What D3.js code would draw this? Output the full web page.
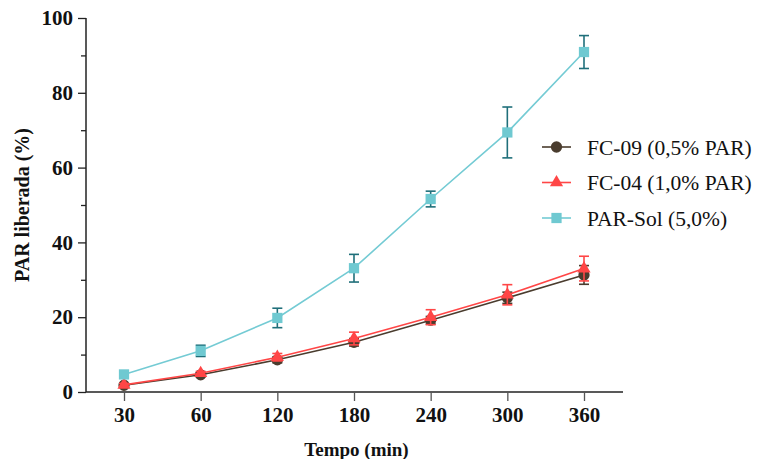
<!DOCTYPE html>
<html>
<head>
<meta charset="utf-8">
<script src="https://cdn.jsdelivr.net/npm/d3@7"></script>
<style>
	body { margin: 0; background: #fff; }
	svg { display: block; }
	svg text { font-family: "Liberation Serif", "Times New Roman", Times, Tinos, "DejaVu Serif", serif; }
</style>
</head>
<body>
<svg id="chart" width="759" height="459"></svg>
<script>
const times = ["30", "60", "120", "180", "240", "300", "360"];

const fc09Mean = [1.8, 4.6, 8.6, 13.3, 19.2, 25.2, 31.3];
const fc09Err  = [0.4, 0.5, 0.8, 1.0, 1.0, 1.5, 2.5];

const fc04Mean = [1.9, 5.0, 9.3, 14.3, 20.0, 26.0, 33.0];
const fc04Err  = [0.4, 0.5, 1.0, 1.7, 2.0, 2.7, 3.3];

const parSolMean = [4.7, 11.0, 19.8, 33.1, 51.6, 69.4, 90.9];
const parSolErr  = [0.5, 1.5, 2.6, 3.7, 2.1, 6.8, 4.4];

const yTicks = [0, 20, 40, 60, 80, 100];
const yMinorTicks = [10, 30, 50, 70, 90];

const series = [
	{ name: "FC-09 (0,5% PAR)", mean: fc09Mean, err: fc09Err, line: "#4a3c2e", marker: "#4a3c2e", bar: "#4a3c2e", shape: d3.symbolCircle, size: 100 },
	{ name: "FC-04 (1,0% PAR)", mean: fc04Mean, err: fc04Err, line: "#ff4646", marker: "#ff4646", bar: "#ff4646", shape: d3.symbolTriangle, size: 75 },
	{ name: "PAR-Sol (5,0%)", mean: parSolMean, err: parSolErr, line: "#74cbd4", marker: "#6fc9d1", bar: "#1f6f7a", shape: d3.symbolSquare, size: 105 }
];

const svg = d3.select("#chart");

const x = d3.scalePoint()
	.domain(times)
	.range([124, 584]);

const y = d3.scaleLinear()
	.domain([0, 100])
	.range([392, 18]);

const axisLeft = 86, axisRight = 623;

// y axis: minor ticks first, then majors with labels
const yAxisG = svg.append("g")
	.attr("transform", "translate(" + axisLeft + ",0)");

yAxisG.append("g")
	.call(d3.axisLeft(y).tickValues(yMinorTicks).tickSize(5).tickFormat(""))
	.call(g => g.select(".domain").remove());

yAxisG.append("g")
	.call(d3.axisLeft(y).tickValues(yTicks).tickSize(8).tickSizeOuter(0).tickPadding(5))
	.call(g => g.select(".domain").attr("d", "M0," + y(0) + "V" + y(100)));

yAxisG.selectAll("g").attr("font-family", null);
yAxisG.selectAll("line").attr("stroke", "#222").attr("stroke-width", 1.3);
yAxisG.selectAll(".domain").attr("stroke", "#222").attr("stroke-width", 1.5);
yAxisG.selectAll("text")
	.attr("font-weight", "bold")
	.attr("font-size", 21)
	.attr("fill", "#111");

// x axis
const xAxisG = svg.append("g")
	.attr("transform", "translate(0," + y(0) + ")")
	.call(d3.axisBottom(x).tickSize(9).tickSizeOuter(0).tickPadding(6))
	.call(g => g.select(".domain").attr("d", "M" + axisLeft + ",0H" + axisRight))
	.attr("font-family", null);

xAxisG.selectAll("line").attr("stroke", "#555").attr("stroke-width", 1.3);
xAxisG.select(".domain").attr("stroke", "#222").attr("stroke-width", 1.5);
xAxisG.selectAll("text")
	.attr("font-weight", "bold")
	.attr("font-size", 21)
	.attr("fill", "#111");

// axis titles
svg.append("text")
	.attr("x", (axisLeft + axisRight) / 2 + 2)
	.attr("y", 456)
	.attr("text-anchor", "middle")
	.attr("font-weight", "bold")
	.attr("font-size", 19)
	.attr("fill", "#111")
	.text("Tempo (min)");

svg.append("text")
	.attr("transform", "translate(29," + 205 + ") rotate(-90)")
	.attr("text-anchor", "middle")
	.attr("font-weight", "bold")
	.attr("font-size", 20)
	.attr("fill", "#111")
	.text("PAR liberada (%)");

// series
const line = d3.line()
	.x((d, i) => x(times[i]))
	.y(d => y(d));

const plot = svg.append("g");

series.forEach(s => {
	const g = plot.append("g");

	g.append("path")
		.datum(s.mean)
		.attr("fill", "none")
		.attr("stroke", s.line)
		.attr("stroke-width", 1.6)
		.attr("d", line);

	const bars = g.selectAll(".err")
		.data(s.mean.map((m, i) => ({ t: times[i], m: m, e: s.err[i] })))
		.enter()
		.append("g")
		.attr("class", "err")
		.attr("stroke", s.bar)
		.attr("stroke-width", 1.6);

	bars.append("line")
		.attr("x1", d => x(d.t)).attr("x2", d => x(d.t))
		.attr("y1", d => y(d.m - d.e)).attr("y2", d => y(d.m + d.e));
	bars.append("line")
		.attr("x1", d => x(d.t) - 5).attr("x2", d => x(d.t) + 5)
		.attr("y1", d => y(d.m + d.e)).attr("y2", d => y(d.m + d.e));
	bars.append("line")
		.attr("x1", d => x(d.t) - 5).attr("x2", d => x(d.t) + 5)
		.attr("y1", d => y(d.m - d.e)).attr("y2", d => y(d.m - d.e));

	g.selectAll(".mk")
		.data(s.mean)
		.enter()
		.append("path")
		.attr("class", "mk")
		.attr("transform", (d, i) => "translate(" + x(times[i]) + "," + y(d) + ")")
		.attr("d", d3.symbol().type(s.shape).size(s.size))
		.attr("fill", s.marker);
});

// legend
const legend = svg.append("g")
	.attr("transform", "translate(542,147)");

const items = legend.selectAll("g")
	.data(series)
	.enter()
	.append("g")
	.attr("transform", (d, i) => "translate(0," + i * 35.5 + ")");

items.append("line")
	.attr("x1", 0).attr("x2", 29)
	.attr("stroke", d => d.line)
	.attr("stroke-width", 1.6);

items.append("path")
	.attr("transform", "translate(14.5,0)")
	.attr("d", d => d3.symbol().type(d.shape).size(d.size)())
	.attr("fill", d => d.marker);

items.append("text")
	.attr("x", 45)
	.attr("dy", "0.35em")
	.attr("font-size", 21.5)
	.attr("fill", "#111")
	.text(d => d.name);
</script>
</body>
</html>
